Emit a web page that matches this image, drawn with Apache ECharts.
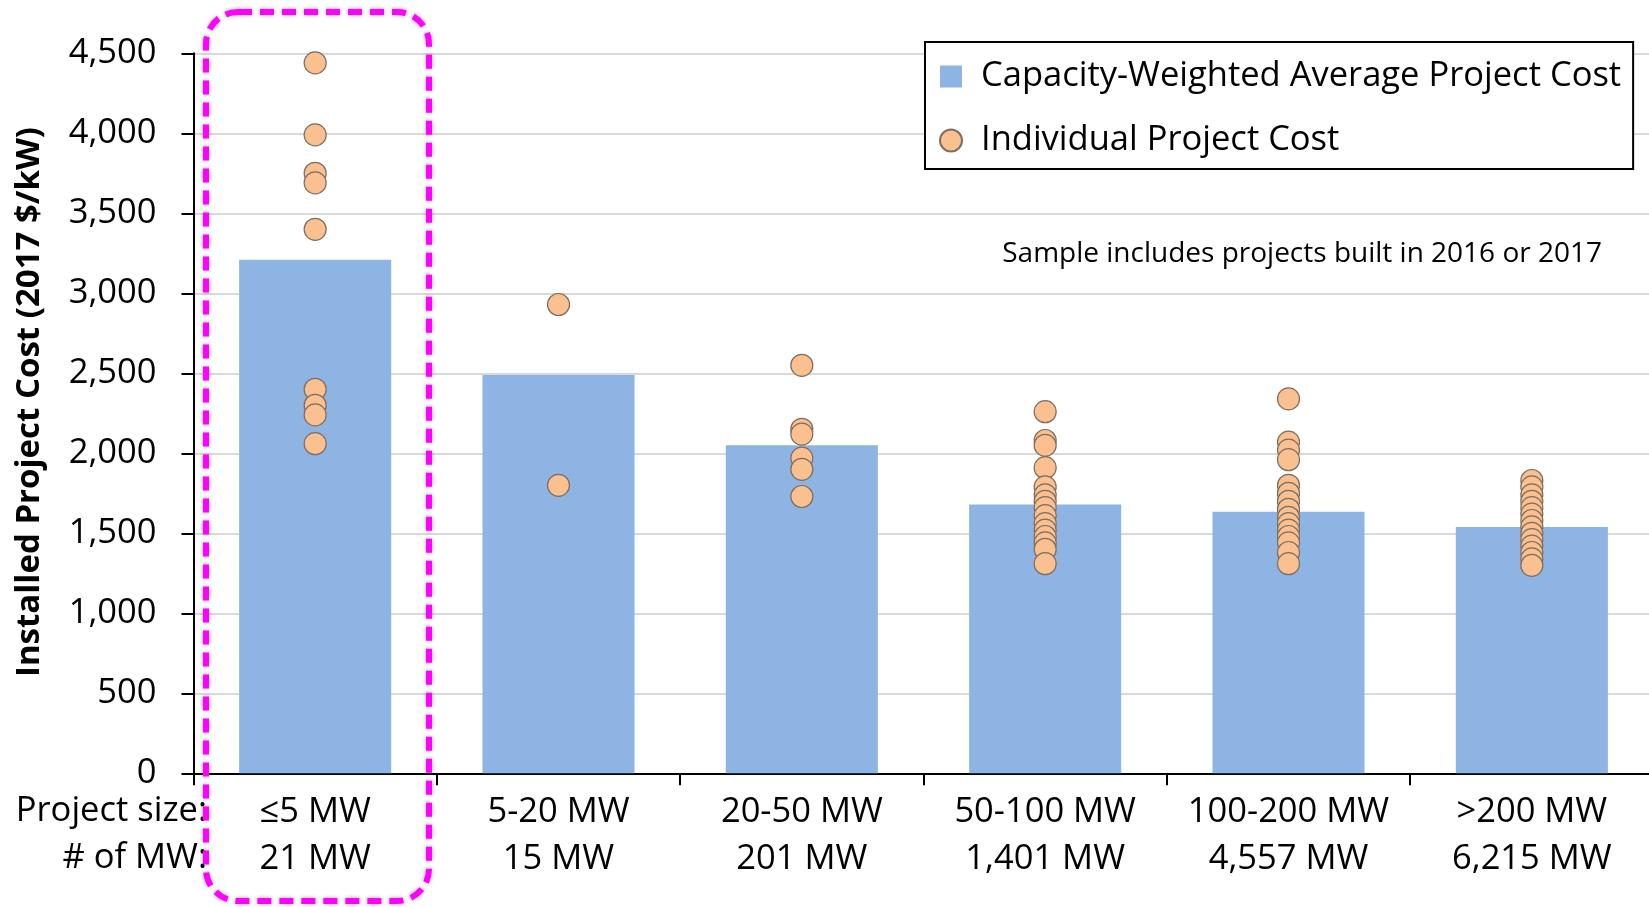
<!DOCTYPE html>
<html>
<head>
<meta charset="utf-8">
<script src="https://cdn.jsdelivr.net/npm/echarts@6/dist/echarts.min.js"></script>
<style>
html,body{margin:0;padding:0;background:#fff;}
#chart{width:1649px;height:907px;}
</style>
</head>
<body>
<div id="chart"></div>
<script>
// ---- data ----
var sizeLabels = ['≤5 MW', '5-20 MW', '20-50 MW', '50-100 MW', '100-200 MW', '>200 MW'];
var mwLabels = ['21 MW', '15 MW', '201 MW', '1,401 MW', '4,557 MW', '6,215 MW'];
var weightedAvgCost = [3210, 2490, 2050, 1680, 1635, 1540];
var costLe5 = [4440, 3990, 3750, 3690, 3400, 2400, 2300, 2240, 2060];
var cost5to20 = [2930, 1800];
var cost20to50 = [2550, 2150, 2120, 1970, 1900, 1730];
var cost50to100 = [2260, 2080, 2050, 1910, 1790, 1740, 1700, 1660, 1610, 1560, 1520, 1480, 1440, 1400, 1310];
var cost100to200 = [2340, 2070, 2020, 1960, 1800, 1750, 1700, 1650, 1600, 1560, 1520, 1480, 1440, 1380, 1310];
var costOver200 = [1830, 1790, 1740, 1700, 1660, 1620, 1580, 1540, 1500, 1460, 1420, 1380, 1340, 1300];
var yTicks = {min: 0, max: 4500, interval: 500};
var seriesNames = ['Capacity-Weighted Average Project Cost', 'Individual Project Cost'];
var rowTitles = ['Project size:', '# of MW:'];
var note = 'Sample includes projects built in 2016 or 2017';
var yAxisTitle = 'Installed Project Cost (2017 $/kW)';

var individual = [costLe5, cost5to20, cost20to50, cost50to100, cost100to200, costOver200];
var categories = sizeLabels.map(function (s, i) { return s + '\n' + mwLabels[i]; });
var scatterData = [];
individual.forEach(function (arr, i) {
  arr.forEach(function (v) { scatterData.push([i, v]); });
});

var FONT = '"Open Sans", sans-serif';
var chart = echarts.init(document.getElementById('chart'));
chart.setOption({
  animation: false,
  backgroundColor: '#fff',
  textStyle: {fontFamily: FONT},
  grid: {left: 193.5, width: 1460, top: 53.3, bottom: 133.7, containLabel: false, outerBoundsMode: 'none'},
  legend: {
    data: [
      {name: seriesNames[0], icon: 'rect'},
      {name: seriesNames[1], icon: 'circle'}
    ],
    orient: 'vertical',
    left: 925, top: 42,
    backgroundColor: '#fff',
    borderColor: '#000', borderWidth: 2,
    padding: [17, 12, 11, 14],
    itemWidth: 22, itemHeight: 22, itemGap: 29,
    textStyle: {fontFamily: FONT, fontSize: 34.5, lineHeight: 30, color: '#000', padding: [0, 0, 0, 14]}
  },
  xAxis: {
    type: 'category',
    data: categories,
    boundaryGap: true,
    axisLine: {lineStyle: {color: '#000', width: 2}},
    axisTick: {show: true, length: 12, lineStyle: {color: '#000', width: 2}},
    axisLabel: {fontFamily: FONT, fontSize: 34.5, color: '#000', lineHeight: 47, margin: 15, interval: 0}
  },
  yAxis: {
    type: 'value',
    min: yTicks.min, max: yTicks.max, interval: yTicks.interval,
    axisLine: {show: true, lineStyle: {color: '#000', width: 2}},
    axisTick: {show: true, length: 12, lineStyle: {color: '#000', width: 2}},
    splitLine: {lineStyle: {color: '#D9D9D9', width: 2}},
    axisLabel: {
      fontFamily: FONT, fontSize: 34.5, color: '#000', margin: 37,
      formatter: function (v) { return v.toLocaleString('en-US'); }
    }
  },
  series: [
    {
      name: seriesNames[0], type: 'bar', data: weightedAvgCost,
      barWidth: '62.5%',
      itemStyle: {color: '#8EB4E3'},
      z: 2
    },
    {
      name: seriesNames[1], type: 'scatter', data: scatterData,
      symbol: 'circle', symbolSize: 22,
      itemStyle: {color: '#FAC090', borderColor: '#7F6E60', borderWidth: 1.2, opacity: 1},
      z: 3
    }
  ],
  graphic: [
    {type: 'text', rotation: Math.PI / 2, x: 30, y: 402,
      style: {text: yAxisTitle, font: 'bold 33px ' + FONT, fill: '#000', align: 'center', verticalAlign: 'middle'}},
    {type: 'text', x: 207, y: 811,
      style: {text: rowTitles[0], font: '34.5px ' + FONT, fill: '#000', align: 'right', verticalAlign: 'middle'}},
    {type: 'text', x: 207, y: 858,
      style: {text: rowTitles[1], font: '34.5px ' + FONT, fill: '#000', align: 'right', verticalAlign: 'middle'}},
    {type: 'text', x: 1602, y: 254.5,
      style: {text: note, font: '28px ' + FONT, fill: '#000', align: 'right', verticalAlign: 'middle'}},
    {type: 'rect', z: 100,
      shape: {x: 206, y: 12, width: 223, height: 889, r: 32},
      style: {fill: 'none', stroke: '#FF00FF', lineWidth: 6, lineDash: [14, 8],
        shadowBlur: 4, shadowColor: 'rgba(0,0,0,0.35)'}}
  ]
});
</script>
</body>
</html>
